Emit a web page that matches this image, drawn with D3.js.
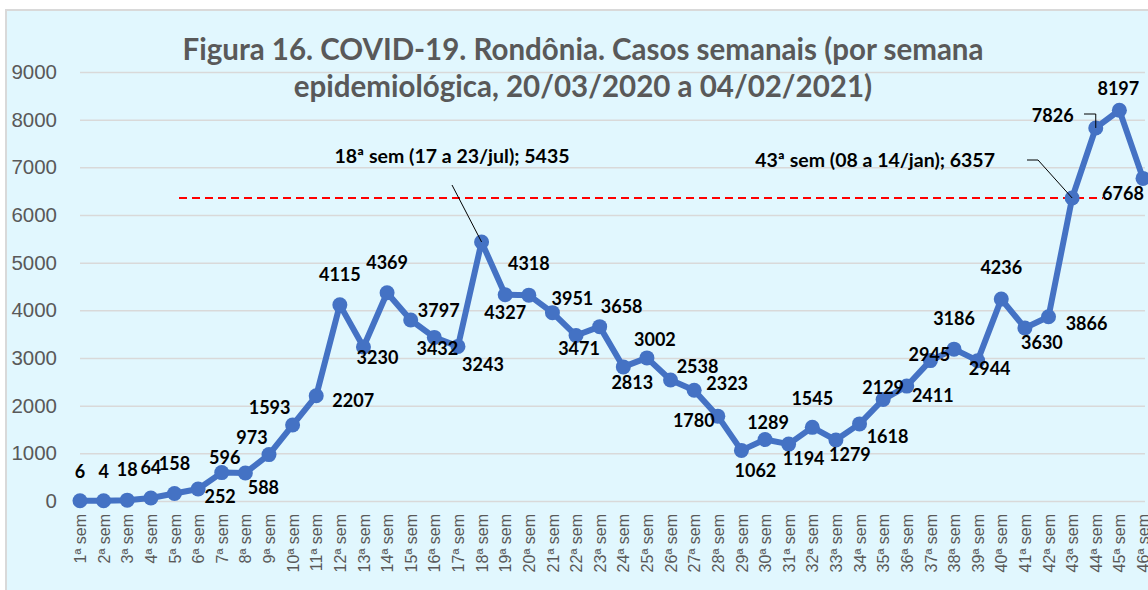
<!DOCTYPE html>
<html>
<head>
<meta charset="utf-8">
<script src="https://cdn.jsdelivr.net/npm/d3@7"></script>
<style>
  html, body { margin: 0; padding: 0; background: #fff; }
  svg { display: block; font-family: Lato, "Open Sans", sans-serif; }
  .tick text { fill: #595959; }
  .dlabel { font-weight: bold; font-size: 18px; fill: #000; }
  .note { font-weight: bold; font-size: 19.5px; fill: #000; }
</style>
</head>
<body>
<svg id="chart" width="1148" height="590"></svg>
<script>
// weekly cases, Rondônia, epi weeks 1..46
const weeks = d3.range(1, 47).map((i) => i + "ª sem");
const cases = [
  6, 4, 18, 64, 158, 252, 596, 588, 973, 1593,
  2207, 4115, 3230, 4369, 3797, 3432, 3243, 5435, 4327, 4318,
  3951, 3471, 3658, 2813, 3002, 2538, 2323, 1780, 1062, 1289,
  1194, 1545, 1279, 1618, 2129, 2411, 2945, 3186, 2944, 4236,
  3630, 3866, 6357, 7826, 8197, 6768
];
const yTicks = [0, 1000, 2000, 3000, 4000, 5000, 6000, 7000, 8000, 9000];
const titleLines = [
  "Figura 16. COVID-19. Rondônia. Casos semanais (por semana",
  "epidemiológica, 20/03/2020 a 04/02/2021)"
];
const peakNote = "18ª sem (17 a 23/jul); 5435";
const jumpNote = "43ª sem (08 a 14/jan); 6357";
const refLevel = 6357;

// where each value label sits relative to its point (null = annotated separately)
const labelNudge = [
  [0, -29], [0, -29], [0, -30], [0, -30], [0, -30], [22, 8], [3, -15], [18, 15], [-17, -17], [-23, -17],
  [37, 5], [0, -30], [14, 11], [0, -30], [28, -9], [3, 11], [25, 18], null, [0, 18], [0, -31],
  [20, -14], [3, 13], [22, -20], [9, 16], [8, -18], [27, -13], [33, -7], [-24, 5], [14, 20], [3, -17],
  [15, 15], [0, -29], [14, 15], [28, 13], [0, -12], [26, 10], [-1, -6], [0, -30], [12, 8], [0, -31],
  [17, 15], [38, 7], null, [-43, -12], [-1, -22], [-20, 15]
];

const svg = d3.select("#chart");
const W = 1148, H = 590;

// chart area
svg.append("rect")
  .attr("x", 6).attr("y", 10)
  .attr("width", W).attr("height", H)
  .attr("fill", "#E1F7FE")
  .attr("stroke", "#D9D9D9").attr("stroke-width", 2);

const x = d3.scalePoint().domain(weeks).range([80, 1143]);
const y = d3.scaleLinear().domain([0, 9000]).range([501, 72]);

// gridlines + y labels
const yAxis = svg.append("g")
  .attr("transform", "translate(80,0)")
  .call(d3.axisLeft(y).tickValues(yTicks).tickSize(-1065).tickPadding(23).tickFormat(d3.format("d")));
yAxis.select(".domain").remove();
yAxis.selectAll(".tick line").attr("stroke", "#D9D9D9").attr("stroke-width", 1.5);
yAxis.selectAll(".tick text").attr("font-size", 20.5);

// x labels
const xAxis = svg.append("g")
  .attr("transform", "translate(0,501)")
  .call(d3.axisBottom(x).tickSize(0).tickPadding(0));
xAxis.select(".domain").remove();
xAxis.selectAll(".tick text")
  .attr("font-size", 16)
  .attr("text-anchor", "end")
  .attr("transform", "translate(0,13) rotate(-90)")
  .attr("x", 0).attr("y", 0).attr("dy", "0.35em");

// title
svg.append("g").selectAll("text")
  .data(titleLines)
  .join("text")
  .attr("x", 583)
  .attr("y", (d, i) => 60 + i * 37)
  .attr("text-anchor", "middle")
  .attr("font-size", 29.5)
  .attr("font-weight", "bold")
  .attr("fill", "#595959")
  .text((d) => d);

// red reference line
svg.append("line")
  .attr("x1", 179).attr("x2", 1103)
  .attr("y1", y(refLevel)).attr("y2", y(refLevel))
  .attr("stroke", "#FF0000").attr("stroke-width", 2)
  .attr("stroke-dasharray", "8,5");

// series
const pts = cases.map((v, i) => ({ week: weeks[i], value: v, nudge: labelNudge[i] }));
svg.append("path")
  .datum(pts)
  .attr("fill", "none")
  .attr("stroke", "#4472C4")
  .attr("stroke-width", 6)
  .attr("stroke-linejoin", "round")
  .attr("d", d3.line().x((d) => x(d.week)).y((d) => y(d.value)));

svg.append("g").selectAll("circle")
  .data(pts)
  .join("circle")
  .attr("cx", (d) => x(d.week))
  .attr("cy", (d) => y(d.value))
  .attr("r", 7.5)
  .attr("fill", "#4472C4");

// value labels
svg.append("g").selectAll("text")
  .data(pts.filter((d) => d.nudge))
  .join("text")
  .attr("class", "dlabel")
  .attr("x", (d) => x(d.week) + d.nudge[0])
  .attr("y", (d) => y(d.value) + d.nudge[1])
  .attr("dy", "0.35em")
  .attr("text-anchor", "middle")
  .text((d) => d.value);

// callouts
const p18 = pts[17], p43 = pts[42], p44 = pts[43];
svg.append("text").attr("class", "note")
  .attr("x", 452).attr("y", 156).attr("dy", "0.35em")
  .attr("text-anchor", "middle").text(peakNote);
svg.append("line")
  .attr("x1", 452).attr("y1", 185)
  .attr("x2", x(p18.week)).attr("y2", y(p18.value))
  .attr("stroke", "#000").attr("stroke-width", 1);

svg.append("text").attr("class", "note")
  .attr("x", 995).attr("y", 160).attr("dy", "0.35em")
  .attr("text-anchor", "end").text(jumpNote);
svg.append("polyline")
  .attr("points", [[1027, 160], [1038, 160], [x(p43.week), y(p43.value)]].join(" "))
  .attr("fill", "none").attr("stroke", "#000").attr("stroke-width", 1);

svg.append("polyline")
  .attr("points", [[1084, 114], [x(p44.week), 114], [x(p44.week), y(p44.value)]].join(" "))
  .attr("fill", "none").attr("stroke", "#000").attr("stroke-width", 1);
</script>
</body>
</html>
